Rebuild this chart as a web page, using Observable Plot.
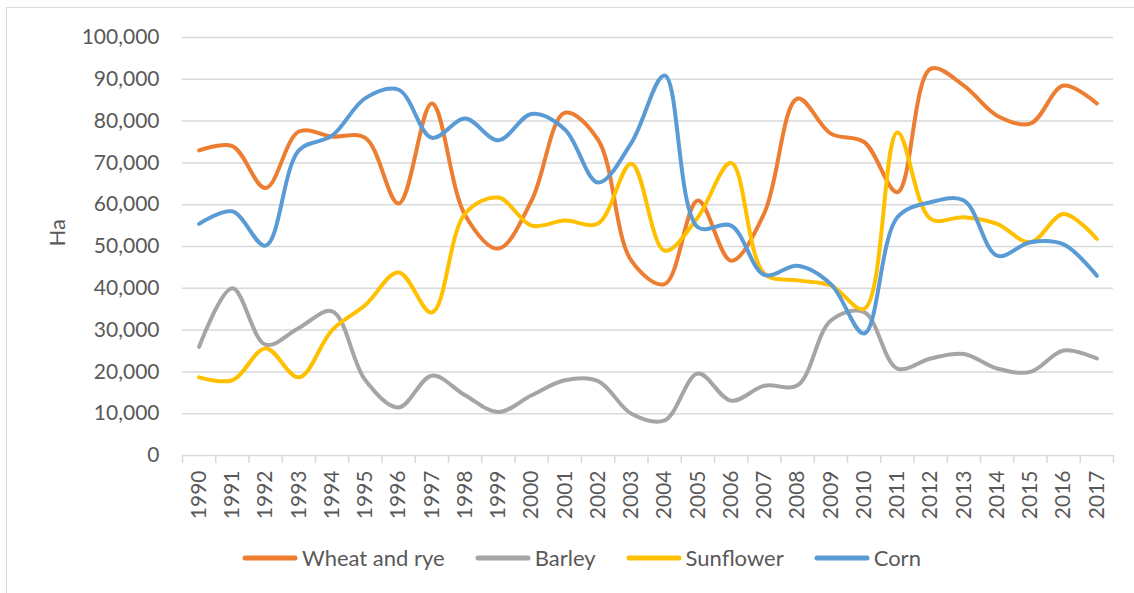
<!DOCTYPE html>
<html>
<head>
<meta charset="utf-8">
<script src="https://cdn.jsdelivr.net/npm/d3@7"></script>
<script src="https://cdn.jsdelivr.net/npm/@observablehq/plot@0.6"></script>
<style>
  html, body { margin: 0; padding: 0; background: #fff; overflow: hidden; }
  body { width: 1134px; height: 593px; position: relative; font-family: Lato, "Open Sans", sans-serif; }
  #frame { position: absolute; left: 6px; top: 7px; width: 1200px; height: 700px; border: 1.5px solid #d9d9d9; box-sizing: border-box; }
  #chart { position: absolute; left: 0; top: 0; }
  #legend { position: absolute; left: 242px; top: 544px; display: flex; align-items: center; font-size: 22px; color: #595959; }
  .item { display: flex; align-items: center; margin-right: 30px; }
  .item svg { margin-right: 4px; }
</style>
</head>
<body>
<div id="frame"></div>
<div id="chart"></div>
<div id="legend"></div>
<script>
const years = [1990,1991,1992,1993,1994,1995,1996,1997,1998,1999,2000,2001,2002,2003,2004,2005,2006,2007,2008,2009,2010,2011,2012,2013,2014,2015,2016,2017];
const seriesNames = ["Wheat and rye", "Barley", "Sunflower", "Corn"];
const seriesColors = ["#ED7D31", "#A5A5A5", "#FFC000", "#5B9BD5"];

const wheatRye = [73000,74000,64000,77500,76300,76000,60300,84200,57500,49500,61000,82000,75500,46600,41000,61000,46600,58000,85400,77000,75000,63000,92500,88500,81300,79400,88500,84200];
const barley   = [26000,40000,26500,30500,34500,18000,11500,19100,14400,10400,14400,18000,17800,10000,8400,19600,13100,16700,16800,32300,34300,20800,23200,24300,20800,20000,25100,23200];
const sunflower= [18700,18000,25600,18700,30000,36000,43800,34200,57900,61700,55000,56200,55500,69800,49000,57000,70000,43500,41900,40700,35100,77300,56600,57000,55400,51000,57800,51800];
const corn     = [55400,58400,50200,73000,76500,85500,87500,76000,80600,75400,81700,78000,65300,74800,90900,54600,55000,43200,45400,41000,29200,57000,60600,61000,47800,51000,50500,43000];

const yTicks = [0,10000,20000,30000,40000,50000,60000,70000,80000,90000,100000];

const values = [wheatRye, barley, sunflower, corn];
const rows = seriesNames.flatMap((name, s) => years.map((yr, i) => ({series: name, year: yr, value: values[s][i]})));
const boundaries = [...years.map(y => y - 0.5), years[years.length - 1] + 0.5];

const chart = Plot.plot({
  width: 1134,
  height: 530,
  marginLeft: 182,
  marginRight: 21,
  marginTop: 37,
  marginBottom: 75,
  style: {fontFamily: "Lato, 'Open Sans', sans-serif", fontSize: "21px", color: "#595959", background: "transparent"},
  x: {type: "linear", domain: [boundaries[0], boundaries[boundaries.length - 1]]},
  y: {domain: [0, 100000]},
  color: {domain: seriesNames, range: seriesColors},
  marks: [
    Plot.gridY(yTicks, {stroke: "#d9d9d9", strokeOpacity: 1, strokeWidth: 1.5}),
    Plot.axisY(yTicks, {tickSize: 0, tickPadding: 23, tickFormat: d3.format(","), fill: "#595959", fontSize: 21, label: null}),
    Plot.axisX(boundaries, {tickSize: 8, tickFormat: () => "", stroke: "#d9d9d9", strokeWidth: 1.5, label: null}),
    Plot.axisX(years, {tickSize: 0, tickPadding: 15, tickRotate: -90, tickFormat: d => String(d), fill: "#595959", fontSize: 21, label: null}),
    Plot.text(["Ha"], {frameAnchor: "left", dx: -125, rotate: -90, fontSize: 22, fill: "#595959"}),
    Plot.lineY(rows, {x: "year", y: "value", stroke: "series", strokeWidth: 4, curve: "catmull-rom", strokeLinecap: "round", strokeLinejoin: "round"})
  ]
});
document.getElementById("chart").appendChild(chart);

const legend = document.getElementById("legend");
seriesNames.forEach((name, i) => {
  const item = document.createElement("div");
  item.className = "item";
  item.innerHTML = `<svg width="56" height="10"><line x1="3" x2="53" y1="5" y2="5" stroke="${seriesColors[i]}" stroke-width="5" stroke-linecap="round"/></svg><span>${name}</span>`;
  legend.appendChild(item);
});
</script>
</body>
</html>
